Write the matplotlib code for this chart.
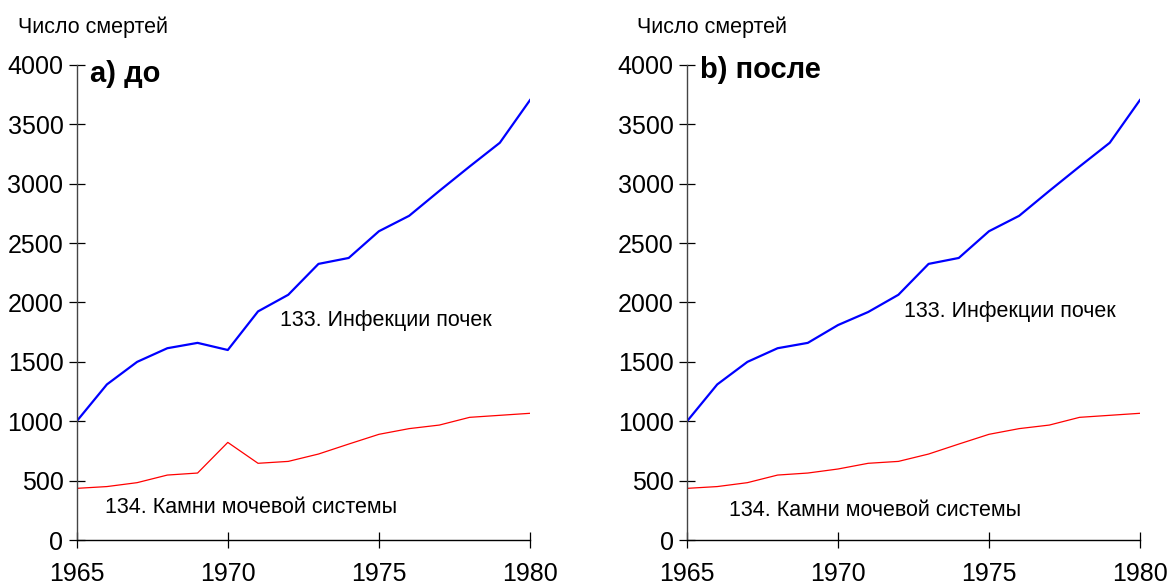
import matplotlib
matplotlib.use('Agg')
import matplotlib.pyplot as plt
import numpy as np

plt.rcParams['font.family'] = ['Liberation Sans', 'DejaVu Sans']

years = np.arange(1965, 1981)

# 133. kidney infections
infect_before = [1000, 1310, 1500, 1615, 1660, 1600, 1925, 2065, 2325, 2375,
                 2600, 2730, 2940, 3145, 3345, 3705]
infect_after = [1000, 1310, 1500, 1615, 1660, 1810, 1920, 2065, 2325, 2375,
                2600, 2730, 2940, 3145, 3345, 3705]
# 134. urinary stones
stones_before = [435, 450, 483, 547, 564, 822, 646, 662, 724, 808,
                 890, 938, 968, 1033, 1050, 1067]
stones_after = [435, 450, 483, 547, 564, 598, 646, 662, 724, 808,
                890, 938, 968, 1033, 1050, 1067]

ylabel = 'Число смертей'
titles = ['a) до', 'b) после']
lab_inf = '133. Инфекции почек'
lab_st = '134. Камни мочевой системы'

fig = plt.figure(figsize=(11.74, 5.88), dpi=100)
ax1 = fig.add_axes([0.0653, 0.0816, 0.3862, 0.8079])
ax2 = fig.add_axes([0.5852, 0.0816, 0.3858, 0.8079])

# (title y, infect label pos, stones label pos)
pos = [(3857, (1971.73, 1802), (1965.94, 230)),
       (3890, (1972.18, 1875), (1966.39, 205))]

for ax, inf, st, ttl, p in zip([ax1, ax2], [infect_before, infect_after],
                               [stones_before, stones_after], titles, pos):
    ax.plot(years, inf, color='#0000ff', lw=1.6)
    ax.plot(years, st, color='#ff0000', lw=0.9)
    ax.set_xlim(1965, 1980)
    ax.set_ylim(0, 4000)
    ax.set_xticks([1965, 1970, 1975, 1980])
    ax.set_yticks(range(0, 4001, 500))
    for s in ['top', 'right']:
        ax.spines[s].set_visible(False)
    ax.spines['left'].set_color('#444444')
    ax.spines['left'].set_linewidth(1.0)
    ax.spines['bottom'].set_linewidth(1.0)
    ax.tick_params(direction='inout', length=11, width=0.9, labelsize=18)
    ax.tick_params(axis='x', pad=10.5)
    ax.tick_params(axis='y', pad=4)
    ax.text(1965.44, p[0], ttl, fontsize=21, fontweight='bold', va='baseline')
    ax.text(p[1][0], p[1][1], lab_inf, fontsize=15.5, va='baseline')
    ax.text(p[2][0], p[2][1], lab_st, fontsize=15.5, va='baseline')

fig.text(18 / 1174, 1 - 33 / 588, ylabel, fontsize=15.5, va='baseline')
fig.text(637 / 1174, 1 - 33 / 588, ylabel, fontsize=15.5, va='baseline')

fig.savefig('out.png', dpi=100)
